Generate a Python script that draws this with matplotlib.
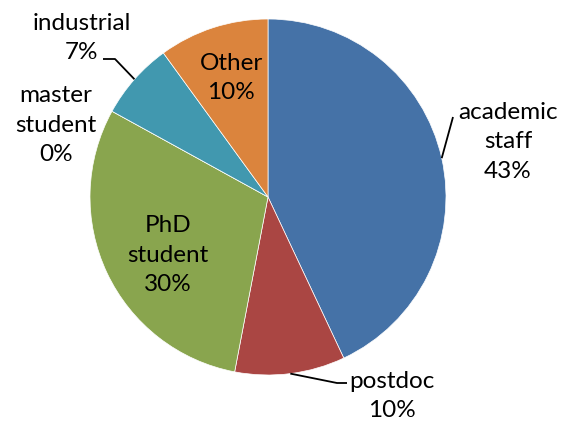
import numpy as np
import matplotlib.pyplot as plt

# chart data
categories = ['academic\nstaff', 'postdoc', 'PhD\nstudent', 'master\nstudent', 'industrial', 'Other']
shares = [43, 10, 30, 0, 7, 10]
colors = ['#4572A7', '#AA4643', '#89A54E', '#71588F', '#4198AF', '#DB843D']

W, H = 577, 423
CX, CY, R = 268, 197, 178


def px(x, y):
    # pixel position -> data coords (pie of radius 1 at origin)
    return (x - CX) / R, (CY - y) / R


fig = plt.figure(figsize=(W / 100, H / 100), dpi=100)
ax = fig.add_axes([0, 0, 1, 1])
wedges, _ = ax.pie(shares, colors=colors, startangle=90, counterclock=False,
                   radius=1, center=(0, 0), frame=False,
                   wedgeprops=dict(linewidth=0.5, edgecolor='white'))
ax.set_xlim(px(0, 0)[0], px(W, 0)[0])
ax.set_ylim(px(0, H)[1], px(0, 0)[1])
ax.axis('off')

font = dict(family=['Lato', 'DejaVu Sans'], fontsize=17.5, color='black',
            ha='center', va='center', linespacing=1.5)

# label centres (pixels)
label_pos = {
    0: (508, 142),
    1: (392, 396),
    2: (168, 255),
    3: (56, 125),
    4: (82, 38),
    5: (231, 78),
}
leader_knee = {
    0: [(453, 117)],
    1: [(337, 383), (347, 383)],
    4: [(115, 59), (103, 59)],
}

for i, w in enumerate(wedges):
    txt = f'{categories[i]}\n{shares[i]}%'
    ax.text(*px(*label_pos[i]), txt, **font)
    if i in leader_knee:
        mid = np.deg2rad((w.theta1 + w.theta2) / 2)
        pts = [(np.cos(mid), np.sin(mid))] + [px(*p) for p in leader_knee[i]]
        xs, ys = zip(*pts)
        ax.plot(xs, ys, color='black', lw=1.3, solid_capstyle='butt')

fig.savefig('out.png', dpi=100)
